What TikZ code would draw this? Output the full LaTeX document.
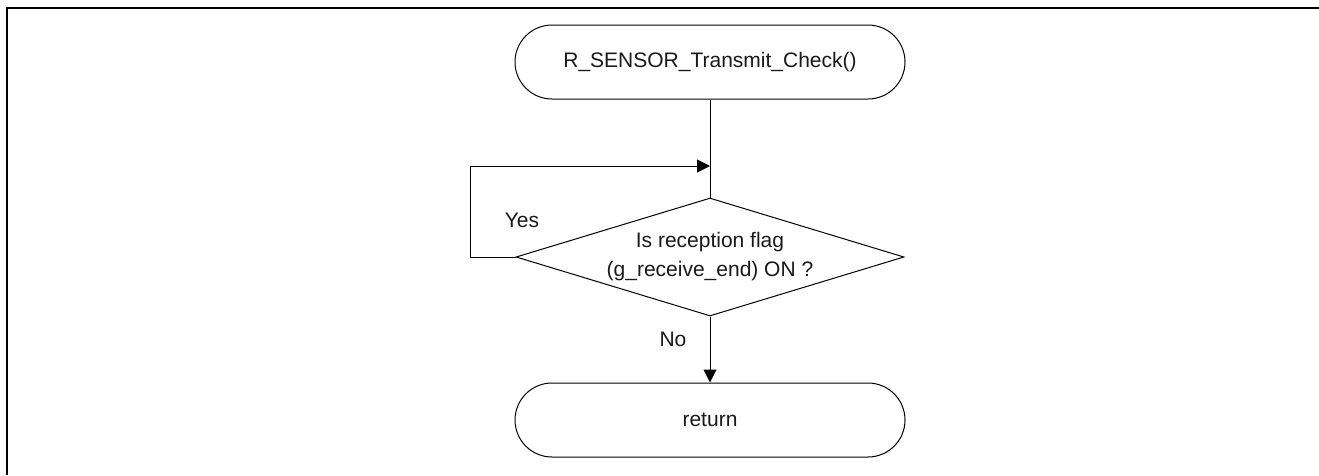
\documentclass[tikz,border=0pt]{standalone}
\usepackage{fontspec}
\setmainfont{Liberation Sans}
\usetikzlibrary{shapes.geometric,shapes.misc,arrows.meta}
\begin{document}
\begin{tikzpicture}[x=1pt,y=-1pt,
  every node/.style={font=\fontsize{21}{29}\selectfont, text=black!90},
  term/.style={draw, rounded rectangle, line width=1pt, minimum width=390pt, minimum height=74pt, inner sep=0pt},
  dec/.style={draw, diamond, line width=1pt, aspect=3.29, minimum width=388pt, minimum height=118pt, inner sep=0pt, align=center},
  conn/.style={line width=1pt},
  arr/.style={line width=1pt, -{Triangle[length=13pt,width=13pt]}}]
\useasboundingbox (0,0) rectangle (1319,475);
\draw[line width=2.5pt] (7,475) -- (7,8) -- (1319,8);
\node[term] (start) at (710,62) {R\_SENSOR\_Transmit\_Check()};
\node[dec] (dec) at (710,257) {Is reception flag\\(g\_receive\_end) ON ?};
\node[term] (ret) at (710,420) {return};
\coordinate (join) at (710,166);
\coordinate (lp) at (470,166);
\draw[conn] (start.south) -- (dec.north);
\draw[arr] (dec.west) -| (lp) -- (join);
\draw[arr] (dec.south) -- (ret.north);
\node (yes) at (522,220) {Yes};
\node (no) at (673,339) {No};
\end{tikzpicture}
\end{document}
